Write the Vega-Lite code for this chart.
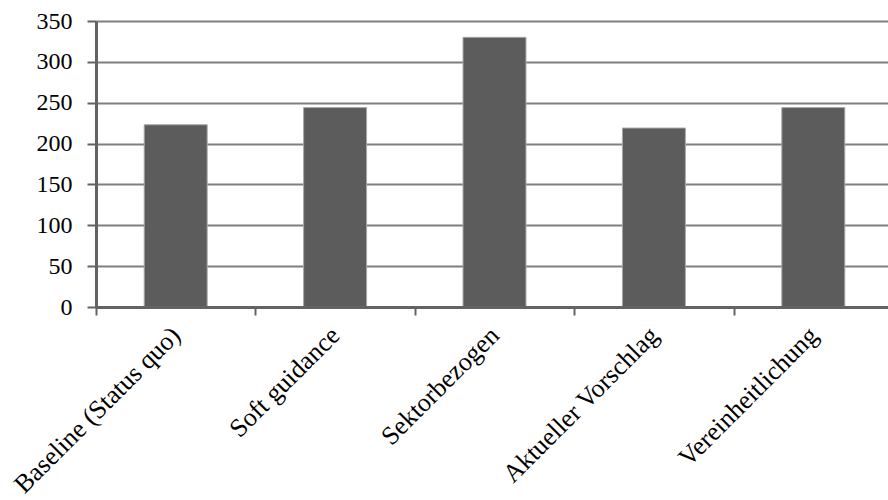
{
  "$schema": "https://vega.github.io/schema/vega-lite/v6.json",
  "width": 792,
  "height": 286,
  "autosize": {"type": "none"},
  "padding": {"left": 96, "top": 21, "right": 0, "bottom": 193},
  "background": "white",
  "config": {"view": {"stroke": null}, "font": "Liberation Serif", "axis": {"labelFont": "Liberation Serif"}},
  "data": {
    "values": [
      {"scenario": "Baseline (Status quo)", "value": 223},
      {"scenario": "Soft guidance", "value": 244},
      {"scenario": "Sektorbezogen", "value": 330},
      {"scenario": "Aktueller Vorschlag", "value": 219},
      {"scenario": "Vereinheitlichung", "value": 244}
    ]
  },
  "mark": {
    "type": "bar",
    "width": {"band": 0.395},
    "color": "#5c5c5c",
    "stroke": "#a8a8a8",
    "strokeWidth": 1
  },
  "encoding": {
    "x": {
      "field": "scenario",
      "type": "nominal",
      "sort": null,
      "scale": {"range": [0, 797], "paddingInner": 0, "paddingOuter": 0},
      "axis": {
        "title": null,
        "zindex": 1,
        "tickBand": "extent",
        "labelAngle": -45,
        "labelAlign": "right",
        "labelBaseline": "middle",
        "labelFont": "Liberation Serif",
        "labelFontSize": 26,
        "labelLimit": 0,
        "labelColor": "black",
        "labelPadding": 16,
        "domainColor": "#636363",
        "domainWidth": 3,
        "tickColor": "#636363",
        "tickWidth": 2,
        "tickSize": 8,
        "grid": false
      }
    },
    "y": {
      "field": "value",
      "type": "quantitative",
      "scale": {"domain": [0, 350], "nice": false},
      "axis": {
        "title": null,
        "values": [0, 50, 100, 150, 200, 250, 300, 350],
        "grid": true,
        "gridColor": "#7f7f7f",
        "gridWidth": 2,
        "domainColor": "#636363",
        "domainWidth": 3,
        "tickColor": "#636363",
        "tickWidth": 2,
        "tickSize": 9,
        "labelFont": "Liberation Serif",
        "labelFontSize": 24,
        "labelColor": "black",
        "labelPadding": 15
      }
    }
  }
}
